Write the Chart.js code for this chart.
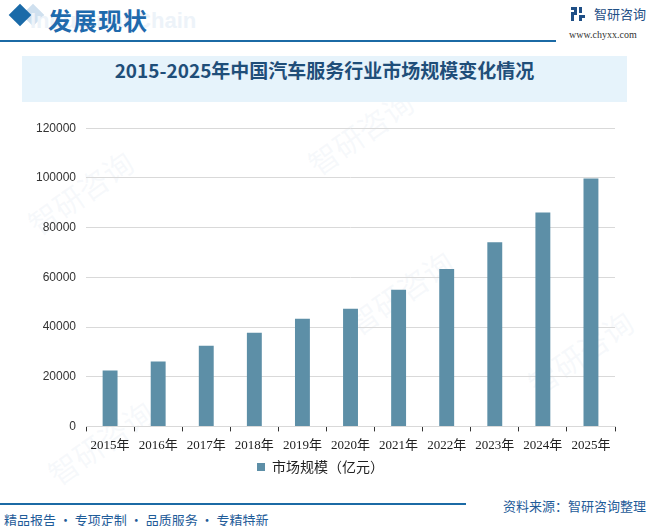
<!DOCTYPE html>
<html>
<head>
<meta charset="utf-8">
<script src="https://cdn.jsdelivr.net/npm/chart.js@4/dist/chart.umd.min.js"></script>
<style>
  html, body { margin: 0; padding: 0; background: #fff; }
  #page { position: relative; width: 649px; height: 526px; overflow: hidden; font-family: "Noto Sans CJK SC", sans-serif; }
  .abs { position: absolute; white-space: nowrap; }
  #diamond { left: 12px; top: 7px; width: 16px; height: 16px; background: #1a6aa8; transform: rotate(45deg); }
  #diamond2 { left: 25px; top: 7px; width: 16px; height: 16px; background: #cfe0ef; transform: rotate(45deg); }
  #headBg { left: 30px; top: 8px; font: bold 22px "Liberation Sans", sans-serif; color: #edf3f9; }
  #headTitle { left: 48px; top: 2px; font: bold 24px "Noto Sans CJK SC"; color: #1f6aad; letter-spacing: 1px; }
  #headLine { left: 0; top: 40px; width: 556px; height: 2px; background: #1b6aa5; }
  #logoIcon { left: 571px; top: 7px; width: 14px; height: 14px; }
  #logoText { left: 594px; top: 4px; font: 13px "Noto Sans CJK SC"; color: #1f4f86; }
  #logoUrl { left: 569px; top: 29px; font: 10px "Liberation Serif", serif; color: #333; }
  #titleBox { left: 22px; top: 56px; width: 605px; height: 46px; background: #e6f3fb; }
  #titleText { left: 22px; top: 56px; width: 605px; line-height: 46px; text-align: center; font: bold 19px "Noto Sans CJK SC"; color: #1f4e79; }
  #chartWrap { left: 0; top: 111px; width: 649px; height: 373px; }
  #footLine { left: 0; top: 503px; width: 466px; height: 2px; background: #1b6aa5; }
  #source { right: 3px; top: 496px; font: 13px "Noto Sans CJK SC"; color: #1f5c99; }
  #slogan { left: 4px; top: 510px; font: 13px "Noto Sans CJK SC"; color: #1f5c99; }
  .wm { font: 30px "Noto Sans CJK SC"; color: rgba(200, 215, 230, 0.16); transform: rotate(-35deg); }
</style>
</head>
<body>
<div id="page">
  <div class="abs wm" style="left:20px; top:170px;">智研咨询</div>
  <div class="abs wm" style="left:300px; top:110px;">智研咨询</div>
  <div class="abs wm" style="left:340px; top:270px;">智研咨询</div>
  <div class="abs wm" style="left:40px; top:420px;">智研咨询</div>
  <div class="abs wm" style="left:520px; top:330px;">智研咨询</div>

  <div class="abs" id="diamond2"></div>
  <div class="abs" id="diamond"></div>
  <div class="abs" id="headBg">Industrial Chain</div>
  <div class="abs" id="headTitle">发展现状</div>
  <div class="abs" id="headLine"></div>
  <svg class="abs" id="logoIcon" viewBox="0 0 14 14">
    <rect x="0" y="0" width="6" height="3" fill="#1f4f86"/>
    <rect x="3" y="0" width="3" height="8" fill="#1f4f86"/>
    <rect x="0" y="5" width="6" height="3" fill="#1f4f86"/>
    <rect x="0" y="5" width="3" height="9" fill="#1f4f86"/>
    <rect x="8" y="0" width="3" height="6" fill="#1f4f86"/>
    <rect x="8" y="8" width="6" height="3" fill="#1f4f86"/>
    <rect x="8" y="11" width="3" height="3" fill="#1f4f86"/>
  </svg>
  <div class="abs" id="logoText">智研咨询</div>
  <div class="abs" id="logoUrl">www.chyxx.com</div>

  <div class="abs" id="titleBox"></div>
  <div class="abs" id="titleText">2015-2025年中国汽车服务行业市场规模变化情况</div>

  <div class="abs" id="chartWrap"><canvas id="chart"></canvas></div>

  <div class="abs" id="footLine"></div>
  <div class="abs" id="source">资料来源：智研咨询整理</div>
  <div class="abs" id="slogan">精品报告 · 专项定制 · 品质服务 · 专精特新</div>
</div>

<script>
// data
const years = ['2015年', '2016年', '2017年', '2018年', '2019年', '2020年',
               '2021年', '2022年', '2023年', '2024年', '2025年'];
const marketSize = [22500, 26100, 32500, 37700, 43300, 47300, 55000, 63300, 74100, 86100, 99800];
const seriesName = '市场规模（亿元）';
const yTicks = [0, 20000, 40000, 60000, 80000, 100000, 120000];

const barColor = '#5d8fa7';

const ctx = document.getElementById('chart').getContext('2d');

new Chart(ctx, {
    type: 'bar',
    data: {
        labels: years,
        datasets: [{
            label: seriesName,
            data: marketSize,
            backgroundColor: barColor,
            borderWidth: 0,
            categoryPercentage: 1,
            barPercentage: 0.31
        }]
    },
    options: {
        responsive: true,
        maintainAspectRatio: false,
        animation: false,
        layout: {
            padding: { left: 26, right: 34, top: 15, bottom: 0 }
        },
        plugins: {
            legend: {
                position: 'bottom',
                labels: {
                    boxWidth: 8,
                    boxHeight: 8,
                    padding: 1,
                    color: '#222',
                    font: { family: '"Noto Sans CJK SC"', size: 14 }
                }
            },
            tooltip: { enabled: false }
        },
        scales: {
            x: {
                offset: true,
                grid: {
                    offset: true,
                    drawOnChartArea: false,
                    drawTicks: true,
                    tickLength: 5,
                    tickColor: '#333',
                    color: '#333'
                },
                border: { color: '#d9d9d9', width: 1 },
                ticks: {
                    color: '#222',
                    padding: 6,
                    maxRotation: 0,
                    autoSkip: false,
                    font: { family: '"Liberation Serif", "Noto Sans CJK SC"', size: 13 }
                }
            },
            y: {
                min: 0,
                max: 120000,
                afterBuildTicks: axis => {
                    axis.ticks = yTicks.map(v => ({ value: v }));
                },
                grid: {
                    color: '#d9d9d9',
                    drawTicks: false
                },
                border: { display: false },
                ticks: {
                    color: '#333',
                    padding: 10,
                    callback: v => String(v),
                    font: { family: '"Liberation Sans", Arial, sans-serif', size: 12 }
                }
            }
        }
    }
});
</script>
</body>
</html>
